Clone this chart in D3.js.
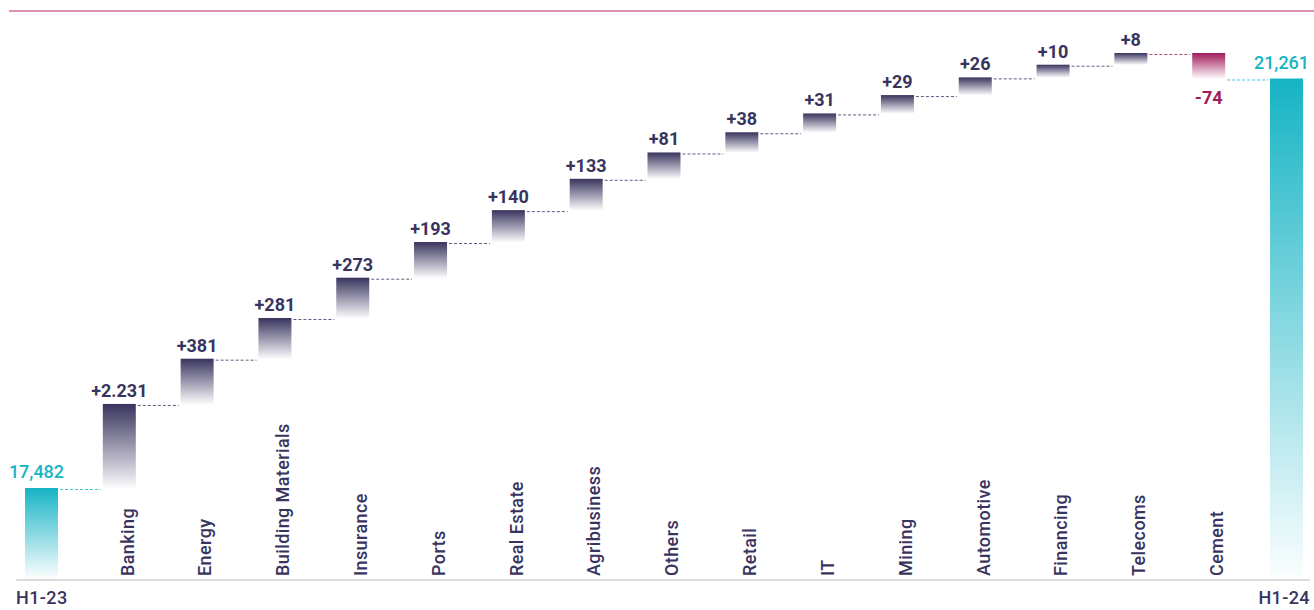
<!DOCTYPE html>
<html>
<head>
<meta charset="utf-8">
<script src="https://cdn.jsdelivr.net/npm/d3@7"></script>
<style>
  html, body { margin: 0; padding: 0; background: #ffffff; }
  svg { display: block; font-family: Roboto, "Noto Sans", sans-serif; }
</style>
</head>
<body>
<div id="chart"></div>
<script>
// Data
const categories = ["H1-23", "Banking", "Energy", "Building Materials", "Insurance", "Ports",
  "Real Estate", "Agribusiness", "Others", "Retail", "IT", "Mining", "Automotive",
  "Financing", "Telecoms", "Cement", "H1-24"];
const totals = [17482, 21261];
const totalLabels = ["17,482", "21,261"];
const changes = [2231, 381, 281, 273, 193, 140, 133, 81, 38, 31, 29, 26, 10, 8, -74];
const changeLabels = ["+2.231", "+381", "+281", "+273", "+193", "+140", "+133", "+81",
  "+38", "+31", "+29", "+26", "+10", "+8", "-74"];

(function draw() {
  const width = 1314, height = 610;
  const baseline = 580;
  const colors = { navy: "#38345e", teal: "#16b4c5", red: "#a11b5b" };

  const svg = d3.select("#chart").append("svg")
    .attr("width", width)
    .attr("height", height);

  // the original is not drawn to scale: steps are compressed
  const step = d3.scalePow().exponent(0.35);

  // build waterfall rows on the compressed level
  const rows = [];
  let level = 0;
  rows.push({ name: categories[0], type: "total", from: null, to: 0, label: totalLabels[0], value: totals[0] });
  changes.forEach((d, i) => {
    const next = level + Math.sign(d) * step(Math.abs(d));
    rows.push({ name: categories[i + 1], type: d >= 0 ? "up" : "down", from: level, to: next, label: changeLabels[i], value: d });
    level = next;
  });
  rows.push({ name: categories[categories.length - 1], type: "total", from: null, to: level, label: totalLabels[1], value: totals[1] });

  const x = d3.scaleBand()
    .domain(categories)
    .range([25, 1303])
    .paddingInner(0.576)
    .paddingOuter(0);

  const y = d3.scaleLinear()
    .domain([0, d3.max(rows, (d) => d.to)])
    .range([488, 53]);

  // gradients
  const defs = svg.append("defs");
  const grad = (id, color, endOpacity) => {
    const g = defs.append("linearGradient").attr("id", id)
      .attr("x1", 0).attr("y1", 0).attr("x2", 0).attr("y2", 1);
    g.append("stop").attr("offset", "0%").attr("stop-color", color).attr("stop-opacity", 1);
    g.append("stop").attr("offset", "100%").attr("stop-color", color).attr("stop-opacity", endOpacity);
  };
  grad("g-up", colors.navy, 0.02);
  grad("g-down", colors.red, 0.02);
  grad("g-total", colors.teal, 0.02);

  // top rule
  svg.append("line")
    .attr("x1", 9).attr("x2", width)
    .attr("y1", 11).attr("y2", 11)
    .attr("stroke", "#d892b4")
    .attr("stroke-width", 2);

  // baseline
  svg.append("line")
    .attr("x1", x.range()[0] - 9).attr("x2", x.range()[1] + 7)
    .attr("y1", baseline).attr("y2", baseline)
    .attr("stroke", "#cfcfcf")
    .attr("stroke-width", 1.5);

  // bars
  svg.selectAll(".bar")
    .data(rows)
    .join("rect")
    .attr("class", "bar")
    .attr("x", (d) => x(d.name))
    .attr("width", x.bandwidth())
    .attr("y", (d) => d.type === "total" ? y(d.to) : y(Math.max(d.from, d.to)))
    .attr("height", (d) => d.type === "total"
      ? baseline - 2 - y(d.to)
      : Math.abs(y(d.from) - y(d.to)))
    .attr("fill", (d) => d.type === "total" ? "url(#g-total)" : d.type === "up" ? "url(#g-up)" : "url(#g-down)");

  // dashed connectors
  const links = rows.slice(0, -1).map((d, i) => ({ a: d, b: rows[i + 1] }));
  svg.selectAll(".link")
    .data(links)
    .join("line")
    .attr("class", "link")
    .attr("x1", (d) => x(d.a.name) + x.bandwidth() + 2)
    .attr("x2", (d) => x(d.b.name) - 2)
    .attr("y1", (d) => y(d.a.to) + 1.5)
    .attr("y2", (d) => y(d.a.to) + 1.5)
    .attr("stroke", (d) => {
      if (d.a.type === "total" || d.b.type === "total") return colors.teal;
      if (d.b.type === "down") return colors.red;
      return colors.navy;
    })
    .attr("stroke-opacity", 0.8)
    .attr("stroke-width", 1)
    .attr("stroke-dasharray", "3,2");

  // value labels
  svg.selectAll(".value")
    .data(rows)
    .join("text")
    .attr("class", "value")
    .attr("x", (d) => x(d.name) + x.bandwidth() / 2 - (d.type === "total" ? 5 : 0))
    .attr("y", (d) => {
      if (d.type === "total") return y(d.to) - 10;
      if (d.type === "down") return y(d.to) + 25;
      return y(d.to) - 7;
    })
    .attr("text-anchor", "middle")
    .attr("font-size", 18)
    .attr("font-weight", (d) => d.type === "total" ? 500 : 700)
    .attr("fill", (d) => d.type === "total" ? colors.teal : d.type === "down" ? colors.red : colors.navy)
    .text((d) => d.label);

  // rotated category labels
  svg.selectAll(".cat")
    .data(rows.filter((d) => d.type !== "total"))
    .join("text")
    .attr("class", "cat")
    .attr("transform", (d) => `translate(${x(d.name) + x.bandwidth() / 2 + 8},576) rotate(-90)`)
    .attr("dy", "0.35em")
    .attr("font-size", 18)
    .attr("font-weight", 500)
    .attr("letter-spacing", 0.4)
    .attr("fill", colors.navy)
    .text((d) => d.name);

  // period labels under the baseline
  svg.append("text")
    .attr("x", x(categories[0]) - 9)
    .attr("y", 604)
    .attr("font-size", 18)
    .attr("font-weight", 500)
    .attr("letter-spacing", 0.4)
    .attr("fill", colors.navy)
    .text(categories[0]);

  svg.append("text")
    .attr("x", x(categories[categories.length - 1]) + x.bandwidth() + 7)
    .attr("y", 604)
    .attr("text-anchor", "end")
    .attr("font-size", 18)
    .attr("font-weight", 500)
    .attr("letter-spacing", 0.4)
    .attr("fill", colors.navy)
    .text(categories[categories.length - 1]);
})();
</script>
</body>
</html>
